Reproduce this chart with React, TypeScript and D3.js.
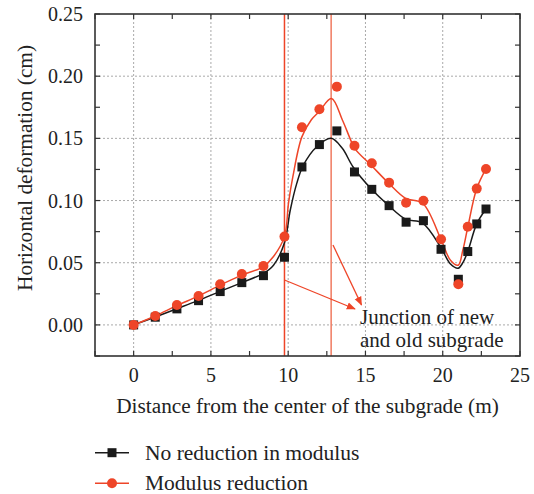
import React from "react";
import * as d3 from "d3";

const distance = [0, 1.4, 2.8, 4.2, 5.6, 7.0, 8.4, 9.76, 10.89, 12.02, 13.15, 14.29, 15.41, 16.53, 17.63, 18.75, 19.89, 21.01, 21.62, 22.2, 22.8];
const noReduction = [0, 0.0062, 0.0129, 0.0195, 0.0268, 0.034, 0.0396, 0.0544, 0.127, 0.145, 0.156, 0.123, 0.109, 0.0959, 0.0826, 0.0838, 0.0608, 0.0367, 0.059, 0.0812, 0.0932];
const modulusReduction = [0, 0.0072, 0.016, 0.0233, 0.0327, 0.041, 0.0474, 0.071, 0.159, 0.1734, 0.1916, 0.1441, 0.13, 0.1144, 0.0983, 0.0999, 0.0689, 0.0327, 0.079, 0.1096, 0.1254];

// fitted curves
const fitXBlack = [0, 1.4, 2.8, 4.2, 5.6, 7.0, 8.4, 9.05, 9.76, 10.13, 10.56, 10.99, 11.85, 12.78, 13.5, 14.2, 15.4, 16.5, 17.6, 18.7, 19.9, 20.5, 21.0, 21.3, 21.62, 22.2, 22.8];
const fitYBlack = [0, 0.0064, 0.013, 0.0197, 0.027, 0.034, 0.0415, 0.048, 0.066, 0.092, 0.114, 0.1286, 0.1433, 0.150, 0.142, 0.127, 0.109, 0.096, 0.085, 0.0818, 0.0617, 0.049, 0.0456, 0.050, 0.059, 0.0812, 0.0932];
const fitXRed = [0, 1.4, 2.8, 4.2, 5.6, 7.0, 8.4, 9.05, 9.76, 10.02, 10.3, 10.88, 11.5, 12.0, 12.8, 13.5, 14.0, 14.3, 15.4, 16.5, 17.6, 18.7, 19.9, 20.5, 21.0, 21.3, 21.62, 22.2, 22.8];
const fitYRed = [0, 0.0072, 0.0155, 0.0233, 0.032, 0.040, 0.0469, 0.055, 0.071, 0.098, 0.119, 0.151, 0.165, 0.1715, 0.182, 0.165, 0.150, 0.142, 0.128, 0.114, 0.1018, 0.0978, 0.0683, 0.052, 0.048, 0.060, 0.0785, 0.1096, 0.1254];

const junctions = [9.76, 12.78];
const xTicks = [0, 5, 10, 15, 20, 25];
const yTicks = [0, 0.05, 0.1, 0.15, 0.2, 0.25];
const seriesNames = ["No reduction in modulus", "Modulus reduction"];

const RED = "#EE4528";
const BLACK = "#1a1a1a";
const FONT = "'Liberation Serif', serif";

export default function App() {
  const left = 95, right = 520, top = 14, bottom = 356;
  const x = d3.scaleLinear().domain([-2.5, 25]).range([left, right]);
  const y = d3.scaleLinear().domain([-0.025, 0.25]).range([bottom, top]);
  const line = d3.line<[number, number]>().x(d => x(d[0])).y(d => y(d[1])).curve(d3.curveCatmullRom.alpha(0.5));
  const blackFit = fitXBlack.map((v, i) => [v, fitYBlack[i]] as [number, number]);
  const redFit = fitXRed.map((v, i) => [v, fitYRed[i]] as [number, number]);
  const xMinor = d3.range(-2.5, 25.01, 2.5);
  const yMinor = d3.range(-0.025, 0.2501, 0.025);

  return (
    <svg width={534} height={494} style={{ position: "absolute", left: 0, top: 0, background: "#fff" }} fontFamily={FONT}>
      <defs>
        <marker id="arr" viewBox="0 0 10 10" refX="9" refY="5" markerWidth="7" markerHeight="7" orient="auto-start-reverse">
          <path d="M0,1 L10,5 L0,9 z" fill={RED} />
        </marker>
      </defs>
      {/* grid */}
      {xTicks.filter(t => t < 25).map(t => (
        <line key={"gx" + t} x1={x(t)} x2={x(t)} y1={top} y2={bottom} stroke="#aaa" strokeDasharray="2,2" strokeWidth={1} />
      ))}
      {yTicks.filter(t => t < 0.25).map(t => (
        <line key={"gy" + t} x1={left} x2={right} y1={y(t)} y2={y(t)} stroke="#aaa" strokeDasharray="2,2" strokeWidth={1} />
      ))}
      {/* ticks inward on all sides */}
      {xMinor.map((t, i) => (
        <g key={"tx" + i}>
          <line x1={x(t)} x2={x(t)} y1={bottom} y2={bottom - 5} stroke="#333" strokeWidth={1.2} />
          <line x1={x(t)} x2={x(t)} y1={top} y2={top + 5} stroke="#333" strokeWidth={1.2} />
        </g>
      ))}
      {yMinor.map((t, i) => (
        <g key={"ty" + i}>
          <line x1={left} x2={left + 5} y1={y(t)} y2={y(t)} stroke="#333" strokeWidth={1.2} />
          <line x1={right} x2={right - 5} y1={y(t)} y2={y(t)} stroke="#333" strokeWidth={1.2} />
        </g>
      ))}
      {/* junction lines */}
      {junctions.map((j, i) => (
        <line key={"j" + i} x1={x(j)} x2={x(j)} y1={top} y2={bottom} stroke={i === 0 ? RED : "#F07A60"} strokeWidth={1.5} />
      ))}
      {/* fitted curves */}
      <path d={line(blackFit) || ""} fill="none" stroke={BLACK} strokeWidth={1.5} />
      <path d={line(redFit) || ""} fill="none" stroke={RED} strokeWidth={1.5} />
      {/* markers */}
      {distance.map((d, i) => (
        <rect key={"s" + i} x={x(d) - 4.5} y={y(noReduction[i]) - 4.5} width={9} height={9} fill={BLACK} />
      ))}
      {distance.map((d, i) => (
        <circle key={"c" + i} cx={x(d)} cy={y(modulusReduction[i])} r={5} fill={RED} />
      ))}
      {/* frame */}
      <rect x={left} y={top} width={right - left} height={bottom - top} fill="none" stroke="#333" strokeWidth={1.6} />
      {/* tick labels */}
      {xTicks.map(t => (
        <text key={"lx" + t} x={x(t)} y={382} textAnchor="middle" fontSize={20} fill="#222">{t}</text>
      ))}
      {yTicks.map(t => (
        <text key={"ly" + t} x={83} y={y(t) + 7} textAnchor="end" fontSize={20} fill="#222">{t.toFixed(2)}</text>
      ))}
      <text x={(left + right) / 2} y={413} textAnchor="middle" fontSize={21.3} fill="#222">Distance from the center of the subgrade (m)</text>
      <text transform={`translate(32,168) rotate(-90)`} textAnchor="middle" fontSize={21.3} fill="#222">Horizontal deformation (cm)</text>
      {/* annotation */}
      <line x1={x(junctions[0])} y1={280} x2={355} y2={309} stroke={RED} strokeWidth={1.3} markerEnd="url(#arr)" />
      <line x1={333} y1={245} x2={361.5} y2={305} stroke={RED} strokeWidth={1.3} markerEnd="url(#arr)" />
      <text x={360} y={324} fontSize={21} fill="#222">Junction of new</text>
      <text x={360} y={347} fontSize={21} fill="#222">and old subgrade</text>
      {/* legend */}
      {seriesNames.map((n, i) => (
        <g key={"lg" + i} transform={`translate(0,${452.7 + i * 30.6})`}>
          <line x1={95} x2={129} y1={0} y2={0} stroke={i === 0 ? BLACK : RED} strokeWidth={1.5} />
          {i === 0 ? <rect x={107.5} y={-4.5} width={9} height={9} fill={BLACK} /> : <circle cx={112} cy={0} r={5} fill={RED} />}
          <text x={145} y={7} fontSize={21.5} fill="#222">{n}</text>
        </g>
      ))}
    </svg>
  );
}
